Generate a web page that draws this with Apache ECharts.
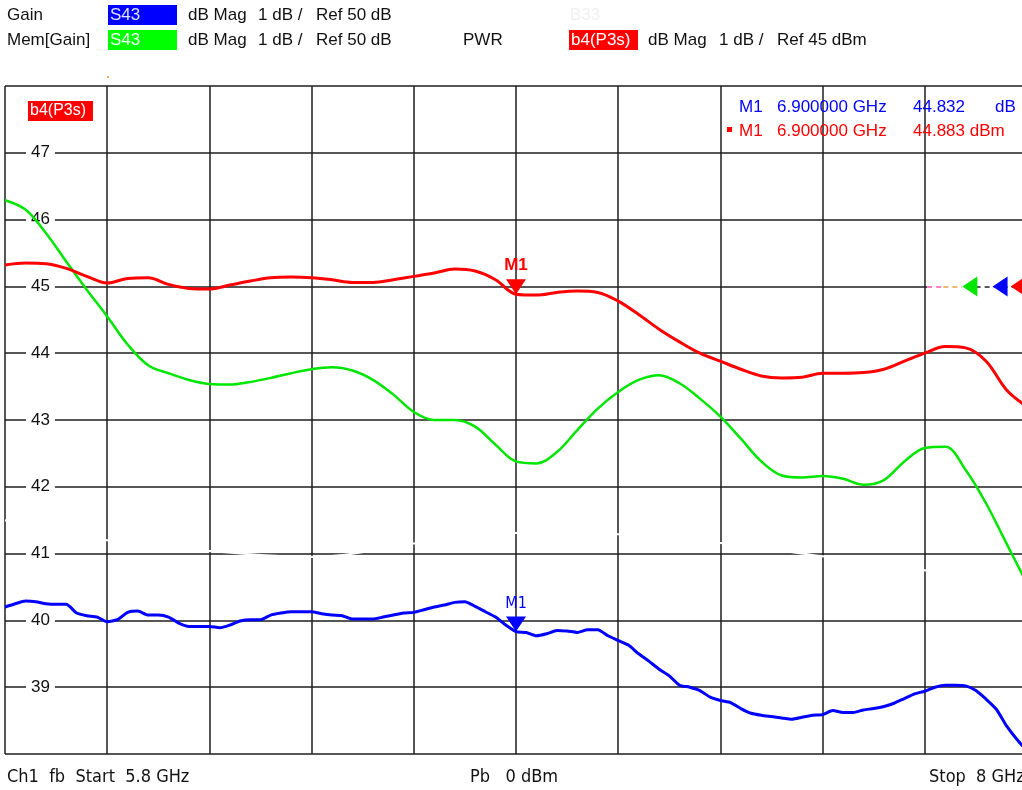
<!DOCTYPE html>
<html>
<head>
<meta charset="utf-8">
<script src="https://cdn.jsdelivr.net/npm/echarts@6/dist/echarts.min.js"></script>
<style>
  html, body { margin: 0; padding: 0; background: #fff; }
  #chart { width: 1022px; height: 790px; }
</style>
</head>
<body>
<div id="chart"></div>
<script>
// Sweep points (GHz)
const freqCoarse = [5.800, 5.844, 5.888, 5.932, 5.976, 6.020, 6.064, 6.108, 6.152, 6.196,
  6.240, 6.284, 6.328, 6.372, 6.416, 6.460, 6.504, 6.548, 6.592, 6.636,
  6.680, 6.724, 6.768, 6.812, 6.856, 6.900, 6.944, 6.988, 7.032, 7.076,
  7.120, 7.164, 7.208, 7.252, 7.296, 7.340, 7.384, 7.428, 7.472, 7.516,
  7.560, 7.604, 7.648, 7.692, 7.736, 7.780, 7.824, 7.868, 7.912, 7.956, 8.000];

const freqFine = [5.800, 5.822, 5.844, 5.866, 5.888, 5.910, 5.932, 5.954, 5.976, 5.998,
  6.020, 6.042, 6.064, 6.086, 6.108, 6.130, 6.152, 6.174, 6.196, 6.218,
  6.240, 6.262, 6.284, 6.306, 6.328, 6.350, 6.372, 6.394, 6.416, 6.438,
  6.460, 6.482, 6.504, 6.526, 6.548, 6.570, 6.592, 6.614, 6.636, 6.658,
  6.680, 6.702, 6.724, 6.746, 6.768, 6.790, 6.812, 6.834, 6.856, 6.878,
  6.900, 6.922, 6.944, 6.966, 6.988, 7.010, 7.032, 7.054, 7.076, 7.098,
  7.120, 7.142, 7.164, 7.186, 7.208, 7.230, 7.252, 7.274, 7.296, 7.318,
  7.340, 7.362, 7.384, 7.406, 7.428, 7.450, 7.472, 7.494, 7.516, 7.538,
  7.560, 7.582, 7.604, 7.626, 7.648, 7.670, 7.692, 7.714, 7.736, 7.758,
  7.780, 7.802, 7.824, 7.846, 7.868, 7.890, 7.912, 7.934, 7.956, 7.978, 8.000];

const freqDiv = [5.80, 6.02, 6.24, 6.46, 6.68, 6.90, 7.12, 7.34, 7.56, 7.78, 8.00];

// Gain S43 (dB), live trace
const gainDb = [45.20, 45.25, 45.29, 45.28, 45.25, 45.24, 45.24, 45.11, 45.07, 45.05,
  44.98, 45.01, 45.12, 45.14, 45.08, 45.08, 45.05, 44.96, 44.91, 44.91,
  44.91, 44.89, 44.93, 44.99, 45.01, 45.01, 45.08, 45.11, 45.13, 45.13,
  45.13, 45.10, 45.08, 45.07, 45.02, 45.02, 45.02, 45.05, 45.08, 45.11,
  45.12, 45.16, 45.20, 45.23, 45.27, 45.28, 45.21, 45.13, 45.05, 44.93,
  44.832, 44.82, 44.77, 44.80, 44.85, 44.84, 44.82, 44.86, 44.86, 44.77,
  44.70, 44.63, 44.50, 44.39, 44.27, 44.17, 44.03, 44.00, 43.95, 43.85,
  43.80, 43.77, 43.68, 43.61, 43.58, 43.56, 43.54, 43.52, 43.55, 43.58,
  43.59, 43.65, 43.62, 43.62, 43.66, 43.68, 43.71, 43.76, 43.83, 43.90,
  43.94, 44.00, 44.03, 44.03, 44.02, 43.95, 43.82, 43.67, 43.42, 43.22, 43.05];

// Mem[Gain] S43 (dB), memory trace
const memGainDb = [51.29, 51.15, 50.80, 50.37, 49.95, 49.55, 49.13, 48.82, 48.70, 48.60,
  48.54, 48.53, 48.57, 48.63, 48.70, 48.76, 48.79, 48.74, 48.60, 48.38,
  48.12, 48.00, 48.00, 47.90, 47.63, 47.38, 47.35, 47.52, 47.85, 48.17,
  48.42, 48.60, 48.67, 48.55, 48.32, 48.05, 47.72, 47.38, 47.17, 47.14,
  47.16, 47.12, 47.03, 47.10, 47.38, 47.58, 47.60, 47.25, 46.75, 46.15, 45.55];

// PWR b4(P3s) (dBm)
const powerDbm = [45.32, 45.35, 45.34, 45.27, 45.15, 45.05, 45.12, 45.13, 45.03, 44.97,
  44.96, 45.02, 45.08, 45.13, 45.14, 45.13, 45.10, 45.06, 45.06, 45.10,
  45.15, 45.20, 45.26, 45.23, 45.10, 44.883, 44.87, 44.91, 44.93, 44.91,
  44.78, 44.58, 44.36, 44.17, 44.00, 43.88, 43.76, 43.66, 43.63, 43.64,
  43.70, 43.70, 43.71, 43.76, 43.88, 44.00, 44.10, 44.08, 43.88, 43.45, 43.20];

// B33 (dBm), displayed in white
const b33Dbm = [41.50, 41.20, 41.04, 40.95, 41.15, 41.31, 41.29, 41.16, 40.96, 40.75, 40.43];

// Marker M1 and reference levels
const markerFreq = 6.9;
const markerGainDb = 44.832;
const markerPowerDbm = 44.883;
const refGainDb = 50;
const refPowerDbm = 45;
const refMarkFreq = { mem: 7.877, gain: 7.942, power: 7.981 };

const FONT = "'Liberation Sans', Arial, sans-serif";
const NARROW = "'Liberation Sans Narrow', 'Arial Narrow', 'DejaVu Sans Condensed', sans-serif";
const RED = '#ff0000', GREEN = '#00e600', BLUE = '#0000ff';

const pairs = (xs, ys) => xs.map((x, i) => [x, ys[i]]);

function refTriangle(freq, value, color) {
  return { coord: [freq, value], symbol: 'triangle', symbolSize: [20, 15], symbolRotate: 90,
           itemStyle: { color: color }, label: { show: false } };
}

function markerTriangle(freq, value, color, labelStyle) {
  return { coord: [freq, value], symbol: 'triangle', symbolSize: [20, 15], symbolRotate: 180,
           symbolOffset: [0, -7.5], itemStyle: { color: color },
           label: Object.assign({ show: true, position: 'top', formatter: 'M1', color: color, distance: 5 }, labelStyle) };
}

function txt(x, y, text, color, font, extra) {
  return Object.assign({ type: 'text', x: x, y: y, silent: true, z: 50,
    style: { text: text, fill: color, font: font, verticalAlign: 'middle', align: 'left' } }, extra || {});
}
function box(x, y, w, h, color) {
  return { type: 'rect', silent: true, z: 49, shape: { x: x, y: y, width: w, height: h }, style: { fill: color } };
}

const chart = echarts.init(document.getElementById('chart'), null, { renderer: 'canvas', width: 1022, height: 790 });

const headerFont = '17px ' + FONT;
const option = {
  animation: false,
  backgroundColor: '#ffffff',
  grid: { left: 5, top: 86, width: 1022, height: 668, containLabel: false, outerBoundsMode: 'none' },
  xAxis: [
    { type: 'value', min: 5.8, max: 8.0, show: false },
    { type: 'value', min: 0, max: 10, interval: 1,
      axisLine: { show: false }, axisTick: { show: false }, axisLabel: { show: false },
      splitLine: { show: true, showMaxLine: false, lineStyle: { color: '#1e1e1e', width: 1.5 } } }
  ],
  yAxis: [
    { type: 'value', min: 38, max: 48, interval: 1,
      axisLine: { show: false }, axisTick: { show: false },
      axisLabel: { inside: true, margin: 21, showMinLabel: false, showMaxLabel: false,
                   color: '#111', fontSize: 17, fontFamily: FONT,
                   backgroundColor: '#ffffff', padding: [0, 5] },
      splitLine: { show: true, lineStyle: { color: '#1e1e1e', width: 1.5 } } },
    { type: 'value', min: 43, max: 53, show: false }
  ],
  series: [
    { name: 'B33', type: 'line', xAxisIndex: 0, yAxisIndex: 0, data: pairs(freqDiv, b33Dbm),
      symbol: 'none', smooth: 0.4, lineStyle: { color: '#ffffff', width: 2 }, z: 2 },
    { name: 'Mem[Gain]', type: 'line', xAxisIndex: 0, yAxisIndex: 1, data: pairs(freqCoarse, memGainDb),
      symbol: 'none', smooth: 0.35, lineStyle: { color: GREEN, width: 2.5 }, z: 3,
      markPoint: { silent: true, data: [refTriangle(refMarkFreq.mem, refGainDb, GREEN)] } },
    { name: 'b4(P3s)', type: 'line', xAxisIndex: 0, yAxisIndex: 0, data: pairs(freqCoarse, powerDbm),
      symbol: 'none', smooth: 0.35, lineStyle: { color: RED, width: 3 }, z: 4,
      markLine: { silent: true, symbol: 'none', label: { show: false }, animation: false,
        data: [
          [{ coord: [7.785, refPowerDbm], lineStyle: { color: '#ffffff', width: 5, type: 'solid' } }, { coord: [8.0, refPowerDbm] }],
          [{ coord: [7.785, refPowerDbm], lineStyle: { color: '#ff55b0', width: 1.5, type: [5, 4] } }, { coord: [7.82, refPowerDbm] }],
          [{ coord: [7.82, refPowerDbm], lineStyle: { color: '#f0a040', width: 1.5, type: [5, 4] } }, { coord: [7.86, refPowerDbm] }],
          [{ coord: [7.87, refPowerDbm], lineStyle: { color: '#222222', width: 1.5, type: [5, 4] } }, { coord: [8.0, refPowerDbm] }]
        ] },
      markPoint: { silent: true, data: [
        refTriangle(refMarkFreq.power, refPowerDbm, RED),
        markerTriangle(markerFreq, markerPowerDbm, RED, { fontWeight: 'bold', fontSize: 17, fontFamily: FONT })
      ] } },
    { name: 'Gain', type: 'line', xAxisIndex: 0, yAxisIndex: 1, data: pairs(freqFine, gainDb),
      symbol: 'none', smooth: 0.2, lineStyle: { color: BLUE, width: 3 }, z: 5,
      markPoint: { silent: true, data: [
        refTriangle(refMarkFreq.gain, refGainDb, BLUE),
        markerTriangle(markerFreq, markerGainDb, BLUE, { fontSize: 16, fontFamily: NARROW })
      ] } }
  ],
  graphic: [
    // channel / trace header
    txt(7, 15, 'Gain', '#111', headerFont),
    box(108, 5, 69, 20, '#0000ff'),
    txt(110, 15, 'S43', '#dde4ff', headerFont),
    txt(188, 15, 'dB Mag', '#111', headerFont),
    txt(258, 15, '1 dB /', '#111', headerFont),
    txt(316, 15, 'Ref 50 dB', '#111', headerFont),
    txt(570, 15, 'B33', '#f1f1f1', headerFont),

    txt(7, 40, 'Mem[Gain]', '#111', headerFont),
    box(108, 30, 69, 20, '#00ff00'),
    txt(110, 40, 'S43', '#f4fff4', headerFont),
    txt(188, 40, 'dB Mag', '#111', headerFont),
    txt(258, 40, '1 dB /', '#111', headerFont),
    txt(316, 40, 'Ref 50 dB', '#111', headerFont),
    txt(463, 40, 'PWR', '#111', headerFont),
    box(569, 30, 69, 20, '#ff0000'),
    txt(571, 40, 'b4(P3s)', '#ffffff', headerFont),
    txt(648, 40, 'dB Mag', '#111', headerFont),
    txt(719, 40, '1 dB /', '#111', headerFont),
    txt(777, 40, 'Ref 45 dBm', '#111', headerFont),
    box(107, 76, 2, 2, '#f5b060'),

    // trace tag inside the diagram
    box(28, 101, 65, 20, '#ff0000'),
    txt(30, 111, 'b4(P3s)', '#ffffff', '16px ' + FONT),

    // marker readout
    txt(739, 107, 'M1', BLUE, headerFont),
    txt(777, 107, markerFreq.toFixed(6) + ' GHz', BLUE, headerFont),
    txt(913, 107, markerGainDb.toFixed(3), BLUE, headerFont),
    txt(995, 107, 'dB', BLUE, headerFont),
    box(727, 127, 5, 5, RED),
    txt(739, 131, 'M1', RED, headerFont),
    txt(777, 131, markerFreq.toFixed(6) + ' GHz', RED, headerFont),
    txt(913, 131, markerPowerDbm.toFixed(3) + ' dBm', RED, headerFont),

    // sweep footer
    txt(7, 777, 'Ch1  fb  Start  5.8 GHz', '#111', '18px ' + NARROW),
    txt(470, 777, 'Pb   0 dBm', '#111', '18px ' + NARROW),
    txt(929, 777, 'Stop  8 GHz', '#111', '18px ' + NARROW)
  ]
};

chart.setOption(option);
</script>
</body>
</html>
